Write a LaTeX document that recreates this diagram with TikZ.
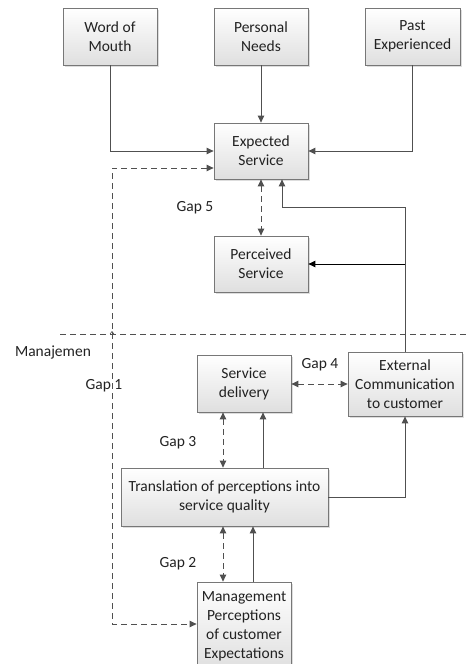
\documentclass[tikz,border=0pt]{standalone}
\usepackage{fontspec}
\setmainfont{Carlito}
\usetikzlibrary{arrows.meta,shadows,calc}
\definecolor{linec}{HTML}{505050}
\definecolor{boxc}{HTML}{777777}
\definecolor{txtc}{HTML}{222222}
\tikzset{
  box/.style={draw=boxc, line width=0.8pt, top color=white, bottom color=gray!25,
    drop shadow={shadow xshift=1.5pt, shadow yshift=-1.5pt, fill=gray!45, opacity=0.6},
    align=center, text=txtc, inner sep=1pt,
    font=\fontsize{15.5}{19}\selectfont, minimum width=94pt, minimum height=57pt},
  arr/.style={draw=linec, line width=1pt, -{Triangle[length=7pt,width=6.5pt]}},
  darr/.style={draw=linec, line width=1pt, dash pattern=on 6pt off 4pt,
    {Triangle[length=7pt,width=6.5pt]}-{Triangle[length=7pt,width=6.5pt]}},
  lbl/.style={text=txtc, font=\fontsize{15.5}{19}\selectfont, inner sep=0pt},
}
\begin{document}
\begin{tikzpicture}[x=1pt,y=-1pt]
\useasboundingbox (0,0) rectangle (467,664);
% nodes
\node[box] (wom) at (110,36.5) {Word of\\Mouth};
\node[box] (pn) at (261,36.5) {Personal\\Needs};
\node[box, minimum width=95pt] (pe) at (412.5,36.5) {Past\\Experienced};
\node[box, minimum height=56pt] (es) at (261,151) {Expected\\Service};
\node[box, minimum height=56pt] (ps) at (261,264) {Perceived\\Service};
\node[box] (sd) at (244,383.5) {Service\\delivery};
\node[box, minimum width=114pt, minimum height=64pt] (ext) at (405,384) {External\\Communication\\to customer};
\node[box, minimum width=207pt, minimum height=58pt] (tr) at (224.5,497) {Translation of perceptions into\\service quality};
\node[box, minimum height=88pt] (mg) at (244,626) {Management\\Perceptions\\of customer\\Expectations};
% labels
\node[lbl] (l5) at (195,208) {Gap 5};
\node[lbl] (l4) at (320,365) {Gap 4};
\node[lbl] (l1) at (104,386) {Gap 1};
\node[lbl] (l3) at (178,443) {Gap 3};
\node[lbl] (l2) at (178,564) {Gap 2};
\node[lbl] (man) at (53,352) {Manajemen};
% separator
\coordinate (sepL) at (60,334);
\coordinate (sepR) at (467,334);
\draw[draw=linec, line width=1pt, dash pattern=on 6pt off 4pt] (sepL) -- (sepR);
% inputs to expected service
\draw[arr] (wom.south) |- (es.west);
\draw[arr] (pn.south) -- (es.north);
\draw[arr] (pe.south) |- (es.east);
% gap 1
\coordinate (g1t) at (112,168);
\coordinate (g1b) at (112,624);
\draw[darr] (es.west |- g1t) -- (g1t) -- (g1b) -- (mg.west |- g1b);
\coordinate (g1m) at (112,337);
\coordinate (g1n) at (112,331);
\draw[draw=linec, line width=0.6pt, -{Straight Barb[length=2.5pt,width=4pt]}] (g1m) -- (g1n);
% gap 5
\draw[darr] (es.south) -- (ps.north);
% external to expected/perceived
\coordinate (c1) at (282,207);
\draw[arr] (ext.north) |- (c1) -- (c1 |- es.south);
\draw[arr, draw=black] (ext.north |- ps.east) -- (ps.east);
% gap 4
\draw[darr] (sd.east |- ext.west) -- (ext.west);
% gap 3
\coordinate (g3) at (223,440);
\draw[darr] (g3 |- sd.south) -- (g3 |- tr.north);
\coordinate (s3) at (263,440);
\draw[arr] (s3 |- tr.north) -- (s3 |- sd.south);
% translation to external
\draw[arr] (tr.east) -| (ext.south);
% gap 2
\coordinate (g2) at (223,560);
\draw[darr] (g2 |- tr.south) -- (g2 |- mg.north);
\coordinate (s2) at (253,560);
\draw[arr] (s2 |- mg.north) -- (s2 |- tr.south);
\end{tikzpicture}
\end{document}
